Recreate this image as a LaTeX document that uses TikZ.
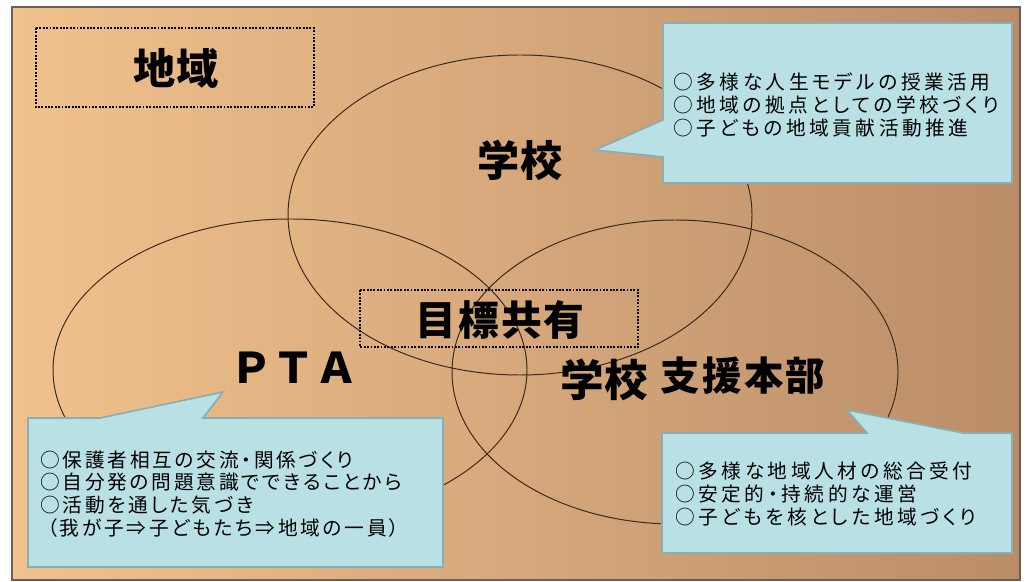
\documentclass[tikz,border=0pt]{standalone}
\usepackage{fontspec}
\newfontfamily\jpwide{Noto Sans CJK JP}
\newfontfamily\jpnote[RawFeature=+palt,LetterSpace=18]{Noto Sans CJK JP}
\newfontfamily\jpnarrow[RawFeature=+palt,LetterSpace=14]{Noto Sans CJK JP}
\definecolor{bgleft}{HTML}{F1C28D}
\definecolor{bgright}{HTML}{BA8D69}
\definecolor{panelline}{HTML}{6E5E55}
\definecolor{ringline}{HTML}{3B2A1C}
\definecolor{calloutfill}{HTML}{B9E1E5}
\definecolor{calloutline}{HTML}{8AAFB3}
\begin{document}
\begin{tikzpicture}[x=0.025cm,y=-0.025cm,
  panel/.style={draw=panelline,line width=1.4pt,left color=bgleft,right color=bgright},
  ring/.style={draw=ringline,line width=0.7pt},
  dotbox/.style={draw=black,line width=1.3pt,dash pattern=on 1.3pt off 1.1pt},
  callout/.style={draw=calloutline,fill=calloutfill,line width=1.2pt},
  biglabel/.style={inner sep=0pt,font=\jpwide\bfseries\fontsize{30pt}{32pt}\selectfont},
  notes/.style={inner sep=0pt,anchor=west,align=left,font=\jpnote\fontsize{14pt}{16.2pt}\selectfont}]
\useasboundingbox (0,0) rectangle (1029,582);
\fill[white] (0,0) rectangle (1029,582);
\draw[panel] (12,7) rectangle (1020,580);

\draw[ring] (520,215) ellipse [x radius=232, y radius=160];
\draw[ring] (290,370) ellipse [x radius=237, y radius=151];
\draw[ring] (675,372) ellipse [x radius=223, y radius=152];

\draw[dotbox] (36,28) rectangle (314,107);
\node[biglabel] (chiiki) at (176,68) {地域};

\draw[dotbox] (360,290) rectangle (638,347);
\node[biglabel,font=\jpwide\bfseries\addfontfeature{LetterSpace=5}\fontsize{29pt}{32pt}\selectfont] (mokuhyo) at (500,320) {目標共有};

\node[biglabel] (gakko) at (520,160) {学校};
\node[biglabel] (pta) at (294,368) {ＰＴＡ};
\node[biglabel,font=\jpwide\bfseries\fontsize{31pt}{32pt}\selectfont] (shiengakko) at (604,380) {学校};
\node[biglabel,font=\jpwide\bfseries\addfontfeature{LetterSpace=6}\fontsize{28pt}{32pt}\selectfont] (shien) at (743,376) {支援本部};

\draw[callout] (663,23) -- (1012,23) -- (1012,183) -- (663,183) -- (663,157) -- (595,150) -- (663,120) -- cycle;
\node[notes] (gakkonotes) at (673,105) {○多様な人生モデルの授業活用\\○地域の拠点としての学校づくり\\○子どもの地域貢献活動推進};

\draw[callout] (28,418) -- (100,418) -- (223,392) -- (203,418) -- (443,418) -- (443,567) -- (28,567) -- cycle;
\node[notes,font=\jpnarrow\fontsize{14pt}{16.2pt}\selectfont] (ptanotes) at (40,494) {○保護者相互の交流・関係づくり\\○自分発の問題意識でできることから\\○活動を通した気づき\\\hspace{0.35em}（我が子⇒子どもたち⇒地域の一員）};

\draw[callout] (662,433) -- (867,433) -- (847,410) -- (963,433) -- (1012,433) -- (1012,553) -- (662,553) -- cycle;
\node[notes] (shiennotes) at (675,494) {○多様な地域人材の総合受付\\○安定的・持続的な運営\\○子どもを核とした地域づくり};

\end{tikzpicture}
\end{document}
